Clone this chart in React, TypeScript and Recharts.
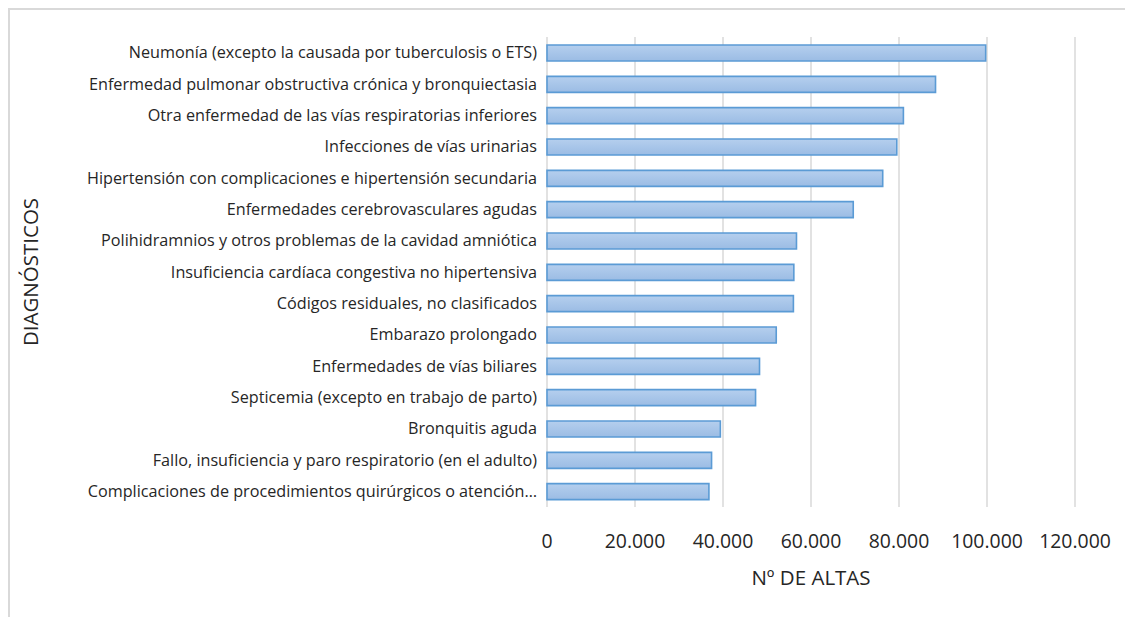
import React from "react";
import { BarChart, Bar, XAxis, YAxis, CartesianGrid, Label } from "recharts";

const categories = [
  "Neumonía (excepto la causada por tuberculosis o ETS)",
  "Enfermedad pulmonar obstructiva crónica y bronquiectasia",
  "Otra enfermedad de las vías respiratorias inferiores",
  "Infecciones de vías urinarias",
  "Hipertensión con complicaciones e hipertensión secundaria",
  "Enfermedades cerebrovasculares agudas",
  "Polihidramnios y otros problemas de la cavidad amniótica",
  "Insuficiencia cardíaca congestiva no hipertensiva",
  "Códigos residuales, no clasificados",
  "Embarazo prolongado",
  "Enfermedades de vías biliares",
  "Septicemia (excepto en trabajo de parto)",
  "Bronquitis aguda",
  "Fallo, insuficiencia y paro respiratorio (en el adulto)",
  "Complicaciones de procedimientos quirúrgicos o atención…",
];

const altas = [
  99700, 88300, 81000, 79500, 76300, 69600, 56700, 56100, 56000, 52100, 48300,
  47400, 39400, 37400, 36800,
];

const xTicks = [0, 20000, 40000, 60000, 80000, 100000, 120000];

const xTitle = "Nº DE ALTAS";
const yTitle = "DIAGNÓSTICOS";

const data = categories.map((name, i) => ({ name, value: altas[i] }));

const fmt = (v: number) => {
  if (v === 0) return "0";
  const s = String(Math.round(v));
  return s.replace(/\B(?=(\d{3})+(?!\d))/g, ".");
};

const FONT = "'Open Sans', Lato, sans-serif";

const YTick = (props: any) => {
  const { x, y, payload } = props;
  return (
    <text
      x={x}
      y={y}
      dy={5.5}
      textAnchor="end"
      fill="#262626"
      fontSize={16.2}
      fontFamily={FONT}
    >
      {payload.value}
    </text>
  );
};

const XTick = (props: any) => {
  const { x, y, payload } = props;
  return (
    <text
      x={x}
      y={y}
      dy={16}
      textAnchor="middle"
      fill="#262626"
      fontSize={19.4}
      fontFamily={FONT}
    >
      {fmt(payload.value)}
    </text>
  );
};

export default function App() {
  return (
    <div
      style={{
        width: 1125,
        height: 609,
        borderTop: "2px solid #d9d9d9",
        borderLeft: "2px solid #d9d9d9",
        boxSizing: "border-box",
        background: "#fff",
      }}
    >
      <style>{`body{overflow:hidden;margin:8px;}`}</style>
      <BarChart
        width={1123}
        height={607}
        layout="vertical"
        data={data}
        margin={{ top: 27, right: 58, bottom: 0, left: 0 }}
        barCategoryGap={0}
      >
        <defs>
          <linearGradient id="barGrad" x1="0" y1="0" x2="0" y2="1">
            <stop offset="0%" stopColor="#b5cfee" />
            <stop offset="100%" stopColor="#9bbce4" />
          </linearGradient>
        </defs>
        <CartesianGrid
          horizontal={false}
          vertical={true}
          stroke="#d9d9d9"
          strokeWidth={1.5}
        />
        <XAxis
          type="number"
          domain={[0, 120000]}
          ticks={xTicks}
          interval={0}
          axisLine={false}
          tickLine={false}
          tickSize={0}
          tickMargin={25}
          height={110}
          tick={<XTick />}
        >
          <Label
            value={xTitle}
            position="insideTop"
            offset={63}
            fill="#262626"
            fontSize={20.5}
            fontFamily={FONT}
          />
        </XAxis>
        <YAxis
          type="category"
          dataKey="name"
          width={537}
          axisLine={false}
          tickLine={false}
          tickSize={0}
          tickMargin={10}
          interval={0}
          tick={<YTick />}
        >
          <Label
            value={yTitle}
            angle={-90}
            position="insideLeft"
            offset={21}
            fill="#262626"
            fontSize={20.5}
            fontFamily={FONT}
            style={{ textAnchor: "middle" }}
          />
        </YAxis>
        <Bar
          dataKey="value"
          barSize={16}
          fill="url(#barGrad)"
          stroke="#5b9bd5"
          strokeWidth={1.6}
          isAnimationActive={false}
        />
      </BarChart>
    </div>
  );
}
